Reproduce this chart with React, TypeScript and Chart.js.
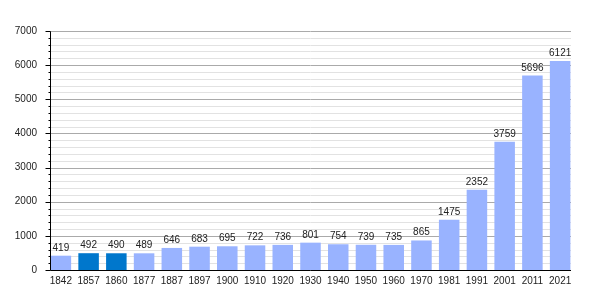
import React, { useEffect, useRef } from "react";
import { Chart, registerables } from "chart.js";

Chart.register(...registerables);

const years = ["1842","1857","1860","1877","1887","1897","1900","1910","1920","1930","1940","1950","1960","1970","1981","1991","2001","2011","2021"];
const population = [419,492,490,489,646,683,695,722,736,801,754,739,735,865,1475,2352,3759,5696,6121];
const highlighted = ["1857","1860"];
const yTicks = [0,1000,2000,3000,4000,5000,6000,7000];
const lightColor = "rgb(153,179,255)";
const darkColor = "rgb(0,119,204)";
const FONT = "'Liberation Sans', Arial, sans-serif";

const gridPlugin = {
  id: "customGrid",
  beforeDatasetsDraw(chart: any) {
    const { ctx, chartArea, scales } = chart;
    const y = scales.y;
    const left = chartArea.left + 3;
    const right = chartArea.right - 3;
    ctx.save();
    ctx.lineWidth = 1;
    for (let v = 200; v <= 7000; v += 200) {
      const py = Math.round(y.getPixelForValue(v)) + 0.5;
      ctx.strokeStyle = v % 1000 === 0 ? "#aaaaaa" : "#e2e2e2";
      ctx.beginPath();
      ctx.moveTo(left, py);
      ctx.lineTo(right, py);
      ctx.stroke();
    }
    ctx.restore();
  },
  afterDatasetsDraw(chart: any) {
    const { ctx, chartArea, scales } = chart;
    const y = scales.y;
    const left = chartArea.left + 3;
    const right = chartArea.right - 3;
    const ax = Math.round(left) + 0.5;
    const bottom = Math.round(y.getPixelForValue(0)) + 0.5;
    const top = Math.round(y.getPixelForValue(7000)) + 0.5;
    ctx.save();
    ctx.strokeStyle = "#000";
    ctx.lineWidth = 1;
    ctx.beginPath();
    ctx.moveTo(ax, top);
    ctx.lineTo(ax, bottom);
    ctx.moveTo(ax, bottom);
    ctx.lineTo(right, bottom);
    for (let v = 0; v <= 7000; v += 200) {
      const py = Math.round(y.getPixelForValue(v)) + 0.5;
      const len = v % 1000 === 0 ? 5 : 2;
      ctx.moveTo(ax - len, py);
      ctx.lineTo(ax, py);
    }
    ctx.stroke();
    ctx.fillStyle = "#222";
    ctx.font = `10px ${FONT}`;
    ctx.textAlign = "center";
    ctx.textBaseline = "alphabetic";
    const meta = chart.getDatasetMeta(0);
    meta.data.forEach((bar: any, i: number) => {
      ctx.fillText(String(population[i]), bar.x, bar.y - 5);
    });
    ctx.restore();
  },
};

export default function App() {
  const ref = useRef<HTMLCanvasElement>(null);
  useEffect(() => {
    document.body.style.margin = "0";
    const chart = new Chart(ref.current!, {
      type: "bar",
      data: {
        labels: years,
        datasets: [
          {
            data: population,
            backgroundColor: years.map((y) => (highlighted.includes(y) ? darkColor : lightColor)),
            barPercentage: 0.74,
            categoryPercentage: 1,
          },
        ],
      },
      options: {
        animation: false,
        responsive: false,
        maintainAspectRatio: false,
        layout: { padding: { top: 31, right: 26, left: 0, bottom: 0 } },
        plugins: { legend: { display: false }, tooltip: { enabled: false } },
        scales: {
          x: {
            grid: { display: false, drawTicks: false },
            border: { display: false },
            ticks: { color: "#222", font: { family: FONT, size: 10 }, padding: 5, maxRotation: 0, autoSkip: false },
            afterFit: (s: any) => { s.height = 30; },
          },
          y: {
            min: 0,
            max: 7000,
            grid: { display: false, drawTicks: false },
            border: { display: false },
            afterBuildTicks: (s: any) => { s.ticks = yTicks.map((v) => ({ value: v })); },
            ticks: { color: "#222", font: { family: FONT, size: 10 }, padding: 10, callback: (v: any) => String(v) },
            afterFit: (s: any) => { s.width = 47; },
          },
        },
      },
      plugins: [gridPlugin],
    });
    return () => chart.destroy();
  }, []);
  return (
    <div style={{ position: "fixed", left: 0, top: 0, width: 600, height: 300, background: "#fff" }}>
      <canvas ref={ref} width={600} height={300} style={{ width: 600, height: 300 }} />
    </div>
  );
}
